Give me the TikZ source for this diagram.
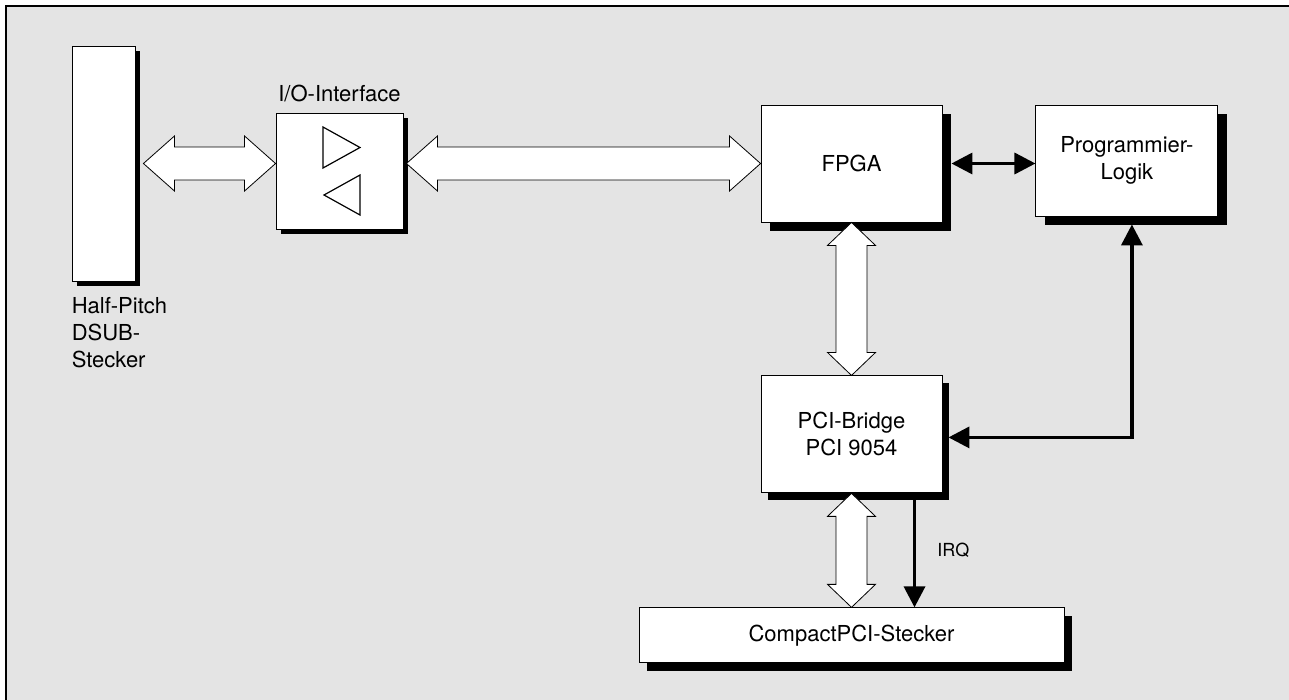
\documentclass[tikz,border=0pt]{standalone}
\usepackage{fontspec}
\setmainfont{TeX Gyre Heros}
\usetikzlibrary{arrows.meta,positioning,calc,shadows}
\definecolor{panelGrey}{HTML}{E4E4E4}
\newcommand{\lbl}{\fontsize{22}{27}\selectfont}
% wide outlined double arrows for the data buses
\newcommand{\hbus}[2]{%
  \draw[bus] let \p1=(#1), \p2=(#2) in
    (\x1,\y1) -- ++(31pt,27.5pt) -- ++(0pt,-11pt) -- (\x2-31pt,\y1+16.5pt) -- ++(0pt,11pt)
    -- (\x2,\y1) -- ++(-31pt,-27.5pt) -- ++(0pt,11pt) -- (\x1+31pt,\y1-16.5pt) -- ++(0pt,-11pt) -- cycle;}
\newcommand{\vbus}[2]{%
  \draw[bus] let \p1=(#1), \p2=(#2) in
    (\x1,\y1) -- ++(24pt,-23pt) -- ++(-8.5pt,0pt) -- (\x1+15.5pt,\y2+23pt) -- ++(8.5pt,0pt)
    -- (\x1,\y2) -- ++(-24pt,23pt) -- ++(8.5pt,0pt) -- (\x1-15.5pt,\y1-23pt) -- ++(-8.5pt,0pt) -- cycle;}

\begin{document}
\begin{tikzpicture}[x=1pt, y=-1pt,
    box/.style={draw, fill=white, line width=0.9pt, inner sep=0pt, align=center, font=\lbl},
    shbox/.style={box, drop shadow={shadow xshift=#1, shadow yshift=-#1, opacity=1, fill=black}},
    bus/.style={draw, fill=white, line width=0.8pt, line join=miter},
    arr/.style={line width=3.5pt, -{Triangle[length=21pt, width=21pt]}},
    darr/.style={line width=3.5pt, {Triangle[length=21pt, width=21pt]}-{Triangle[length=21pt, width=21pt]}},
    txt/.style={inner sep=0pt, font=\lbl, align=left}
  ]
    \useasboundingbox (0,0) rectangle (1289,699);
    % panel
    \fill[panelGrey] (6,6) rectangle (1300,710);
    \draw[line width=2pt] (1300,6) -- (6,6) -- (6,710);

    \node[shbox=5pt, minimum width=63pt, minimum height=235pt] (dsub) at (103.5,163.5) {};
    \node[shbox=5pt, minimum width=127pt, minimum height=116pt] (io) at (339.5,171) {};
    \node[shbox=9pt, minimum width=181pt, minimum height=117pt] (fpga) at (851.5,163.5) {FPGA};
    \node[shbox=9pt, minimum width=182pt, minimum height=111pt, right=93pt of fpga.north east, anchor=north west] (prog) {Programmier-\\Logik};
    \node[shbox=7pt, minimum width=181pt, minimum height=117pt, below=153pt of fpga] (pci) {PCI-Bridge\\PCI 9054};
    \node[shbox=8pt, minimum width=425pt, minimum height=55pt, below=114pt of pci] (cpci) {CompactPCI-Stecker};

    \node[txt, below=16pt of dsub.south west, anchor=north west] (dsublbl) {Half-Pitch\\DSUB-\\Stecker};
    \node[txt, above=10pt of io] (iolbl) {I/O-Interface};

    % driver symbols
    \draw[line width=1.2pt, line join=miter] ([shift={(-16.5,-44)}]io.center) -- ([shift={(-16.5,-3)}]io.center) -- ([shift={(20.5,-23.5)}]io.center) -- cycle;
    \draw[line width=1.2pt, line join=miter] ([shift={(20.5,4)}]io.center) -- ([shift={(20.5,44)}]io.center) -- ([shift={(-15.5,24)}]io.center) -- cycle;

    % buses
    \hbus{[xshift=8pt]dsub.east}{io.west |- dsub.east}
    \hbus{$(io.east |- fpga.west)+(3,0)$}{fpga.west}
    \vbus{fpga.south}{pci.north}
    \vbus{pci.south}{cpci.north}

    % control lines
    \draw[darr, shorten <=9pt] (fpga.east) -- (fpga.east -| prog.west);
    \draw[darr, shorten <=8pt, shorten >=6pt] ([xshift=5pt]prog.south) |- ([yshift=-3pt]pci.east);
    \coordinate (irq) at ([xshift=63pt]pci.south);
    \draw[arr] (irq) -- (irq |- cpci.north) node[txt, midway, right=21pt, font=\fontsize{18}{22}\selectfont] (irqlbl) {IRQ};
\end{tikzpicture}
\end{document}
